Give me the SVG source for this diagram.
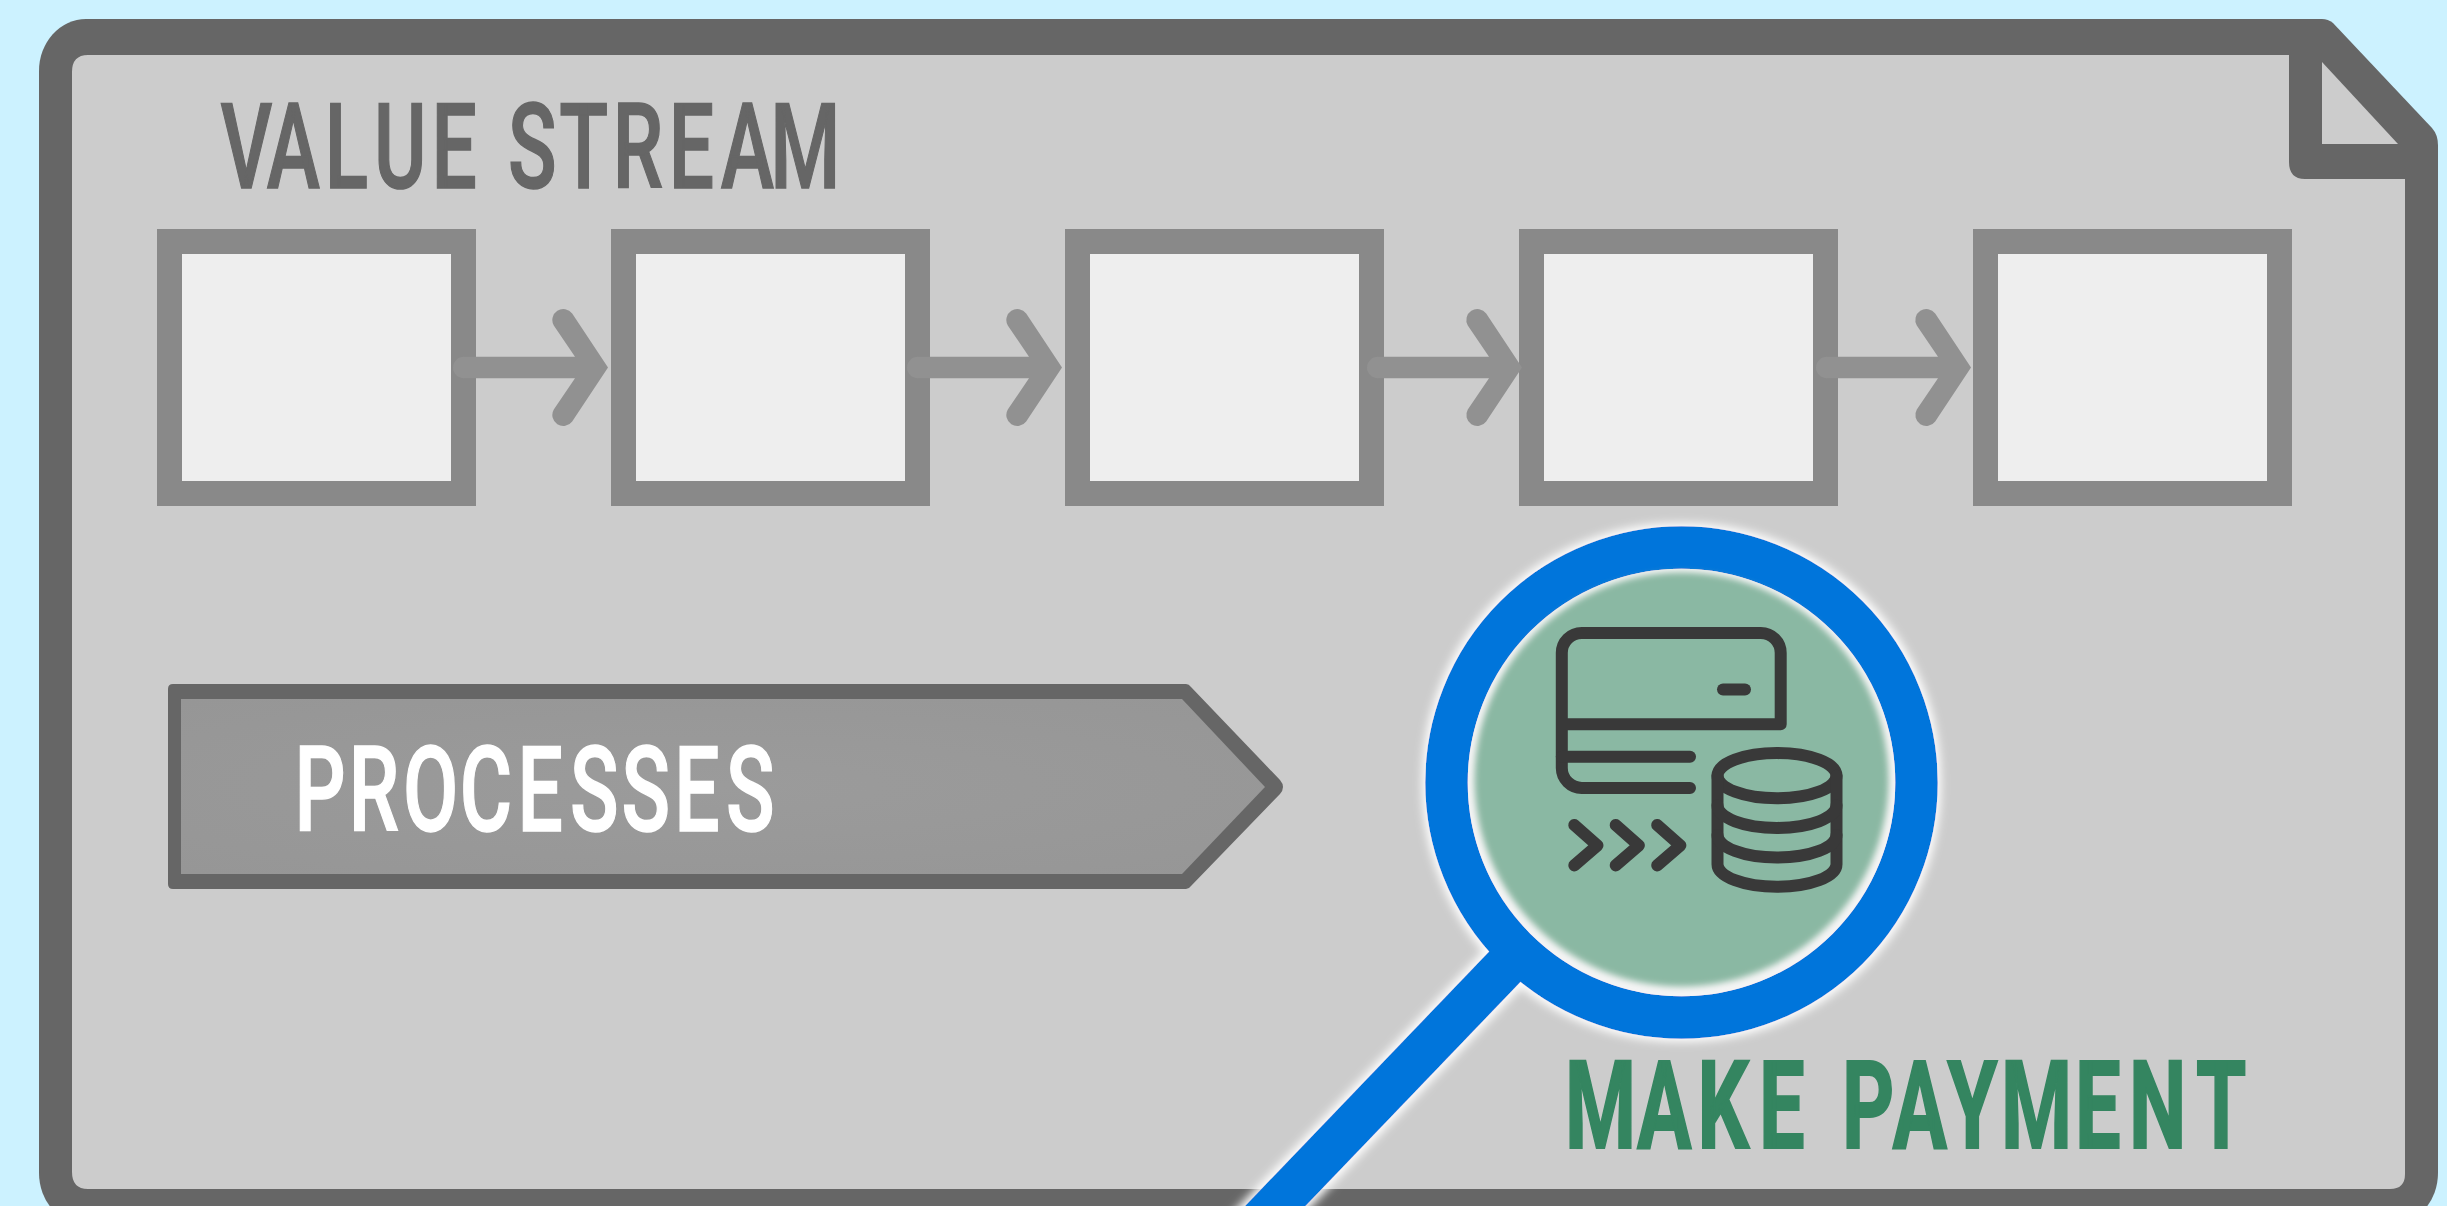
<svg xmlns="http://www.w3.org/2000/svg" width="2447" height="1206" viewBox="0 0 2447 1206">
  <style>
    .box { fill: #eeeeee; stroke: #898989; stroke-width: 25; }
    .arrow { fill: #919191; }
    .ico { fill: none; stroke: #393939; stroke-width: 12; stroke-linecap: round; stroke-linejoin: round; }
    .lbl { font-family: Roboto, "Liberation Sans", sans-serif; font-size: 118px; font-weight: 500; stroke-width: 1.5; }
  </style>
  <defs>
    <radialGradient id="bannerFill" cx="0.5" cy="0.5" r="0.7">
      <stop offset="0" stop-color="#9b9b9b"/>
      <stop offset="1" stop-color="#969696"/>
    </radialGradient>
    <path id="arrowShape" d="M0,0 L-35.8,-54 A11,11 0 0 0 -54.2,-42 L-33,-10.75 H-144.25 A10.75,10.75 0 0 0 -144.25,10.75 H-33 L-54.2,42 A11,11 0 0 0 -35.8,54 Z"/>
    <filter id="glow" filterUnits="userSpaceOnUse" x="1150" y="480" width="850" height="800">
      <feMorphology in="SourceAlpha" operator="dilate" radius="3" result="d"/>
      <feGaussianBlur in="d" stdDeviation="5" result="b"/>
      <feFlood flood-color="#ffffff"/>
      <feComposite in2="b" operator="in" result="g"/>
      <feMerge><feMergeNode in="g"/><feMergeNode in="SourceGraphic"/></feMerge>
    </filter>
    <filter id="soft" x="-5%" y="-5%" width="110%" height="110%">
      <feGaussianBlur stdDeviation="3"/>
    </filter>
  </defs>

  <rect width="2447" height="1206" fill="#ccf2ff"/>

  <g id="frame">
    <path fill="#666666" d="M86,19 H2322 Q2328,19 2333,23 L2432,128 Q2438,135 2438,145 V1173 A47,52 0 0 1 2391,1225 H86 A47,52 0 0 1 39,1173 V71 A47,52 0 0 1 86,19 Z"/>
    <path fill="#cccccc" d="M88,55 H2289 V162 Q2289,179 2305,179 H2405 V1174 Q2405,1189 2390,1189 H88 Q72,1189 72,1172 V72 Q72,55 88,55 Z"/>
    <path fill="#cccccc" d="M2322,62 V144 H2398 Z"/>
  </g>

  <g id="title-value-stream">
    <text class="lbl" fill="#666666" stroke="#666666" transform="scale(0.68 1)" y="188" x="324.1 392.4 477.5 550.1 634.4 700 746.9 822.6 901 983.4 1060 1132.6">VALUE STREAM</text>
  </g>

  <g id="step-1"><rect class="box" x="169.5" y="241.5" width="294" height="252"/></g>
  <g id="step-2"><rect class="box" x="623.5" y="241.5" width="294" height="252"/></g>
  <g id="step-3"><rect class="box" x="1077.5" y="241.5" width="294" height="252"/></g>
  <g id="step-4"><rect class="box" x="1531.5" y="241.5" width="294" height="252"/></g>
  <g id="step-5"><rect class="box" x="1985.5" y="241.5" width="294" height="252"/></g>

  <g id="connectors">
    <use class="arrow" href="#arrowShape" x="608" y="367.5"/>
    <use class="arrow" href="#arrowShape" x="1062" y="367.5"/>
    <use class="arrow" href="#arrowShape" x="1522" y="367.5"/>
    <use class="arrow" href="#arrowShape" x="1971" y="367.5"/>
  </g>

  <g id="processes">
    <path fill="#666666" d="M173,684 H1186 Q1189,684 1191,687 L1280,780 Q1286,787 1280,794 L1191,886 Q1189,889 1186,889 H173 Q168,889 168,884 V689 Q168,684 173,684 Z"/>
    <path fill="url(#bannerFill)" d="M181,699 H1182 L1265,787 L1182,874 H181 Z"/>
    <text class="lbl" fill="#ffffff" stroke="#ffffff" transform="scale(0.68 1)" y="831" x="433.1 512.8 592.5 676 760.9 838.1 913.8 991.6 1067.5">PROCESSES</text>
  </g>

  <g id="magnifier">
    <g filter="url(#glow)">
      <circle cx="1681.5" cy="782.5" r="235" fill="none" stroke="#0075db" stroke-width="42.5"/>
      <path fill="#0075db" d="M1509.7,930 L1212.4,1240 L1272.9,1240 L1541.6,960 Z"/>
    </g>
    <circle cx="1681.5" cy="782.5" r="213.5" fill="#f4f4f4"/>
    <circle cx="1681.5" cy="779.5" r="207" fill="#8ab8a3" filter="url(#soft)"/>
  </g>

  <g id="payment-icon">
    <path class="ico" d="M1690,787.9 H1582 A20,20 0 0 1 1561.8,768 V653 A20,20 0 0 1 1582,632.9 H1760.5 A20,20 0 0 1 1780.7,653 V724.3 H1561.8"/>
    <path class="ico" d="M1561.8,756.8 H1690"/>
    <path class="ico" d="M1723,689.6 H1745"/>
    <path class="ico" d="M1574.3,825 L1597.5,845.4 L1574.3,865.4"/>
    <path class="ico" d="M1615.7,825 L1638.9,845.4 L1615.7,865.4"/>
    <path class="ico" d="M1657.2,825 L1680.4,845.4 L1657.2,865.4"/>
    <ellipse class="ico" cx="1777" cy="775.7" rx="59.5" ry="22.6"/>
    <path class="ico" d="M1717.5,775.7 V864.2 A59.5,22.6 0 0 0 1836.5,864.2 V775.7"/>
    <path class="ico" d="M1717.5,805.3 A59.5,22.6 0 0 0 1836.5,805.3"/>
    <path class="ico" d="M1717.5,834.9 A59.5,22.6 0 0 0 1836.5,834.9"/>
  </g>

  <g id="title-make-payment">
    <text fill="#348560" stroke="#348560" stroke-width="2" font-family="Roboto, 'Liberation Sans', sans-serif" font-size="123" font-weight="700" transform="scale(0.66 1)" y="1148" x="2371.2 2480.2 2572 2665.2 2730 2790.9 2867.3 2950.3 3031.8 3143.9 3225.8 3327.3">MAKE PAYMENT</text>
  </g>
</svg>
